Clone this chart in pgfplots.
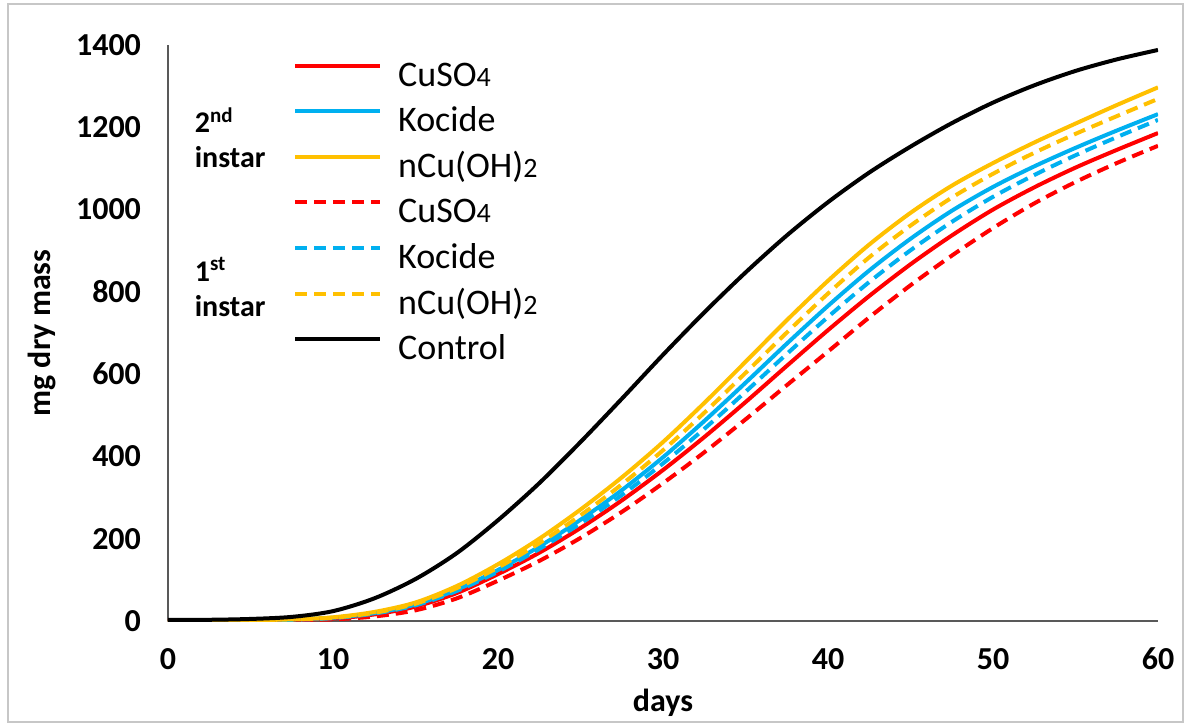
\documentclass[border=0pt]{standalone}
\usepackage{fontspec}
\setmainfont{Carlito}
\usepackage{pgfplots}
\usepackage{pgfplotstable}
\pgfplotsset{compat=1.18}

\definecolor{cured}{HTML}{FF0000}
\definecolor{koblue}{HTML}{00B0F0}
\definecolor{ncorange}{HTML}{FFC000}

% day, control, 2nd instar (cu, ko, nc), 1st instar (cu, ko, nc)
\pgfplotstableread{
day  ctrl cu2  ko2  nc2  cu1  ko1  nc1
0    3    1    1    1    1    1    1
2.5  3    1    1    1    1    1    1
5    5    2    2    2    1    2    2
7.5  10   3    4    4    2    3    4
10   24   6    8    9    4    7    8
12.5 55   16   19   22   11   18   20
15   102  35   40   45   26   38   42
17.5 165  68   76   85   55   73   80
20   245  114  124  138  98   120  130
22.5 335  166  181  200  146  175  189
25   435  226  246  271  202  237  257
27.5 540  293  318  349  265  306  332
30   647  367  398  435  335  383  415
32.5 750  447  486  530  410  467  506
35   847  532  579  630  490  557  603
37.5 937  620  674  731  573  649  701
40   1018 707  766  827  655  739  796
42.5 1090 790  852  915  738  824  884
45   1153 867  929  992  816  901  961
47.5 1210 937  997  1058 888  970  1029
50   1260 1000 1055 1113 955  1031 1087
52.5 1302 1054 1105 1163 1015 1084 1138
55   1337 1102 1150 1209 1067 1132 1184
57.5 1365 1145 1192 1254 1113 1176 1227
60   1388 1186 1232 1297 1155 1218 1269
}\growth

\newcommand\sub[1]{{\fontsize{14}{16}\selectfont #1}}

\begin{document}
\begin{tikzpicture}
\useasboundingbox (-84pt,-52pt) rectangle (509.5pt,310.5pt);
\draw[black!22, line width=0.8pt] (-80pt,-50.5pt) rectangle (507.5pt,308.5pt);
\begin{axis}[
    at={(0,0)}, anchor=south west,
    scale only axis,
    width=495pt, height=288pt,
    xmin=0, xmax=60, ymin=0, ymax=1400,
    xtick={0,10,...,60},
    ytick={0,200,...,1400},
    axis lines*=left,
    axis line style={black!65, line width=0.9pt},
    major tick length=0pt,
    tick label style={font=\fontsize{16}{18}\selectfont\bfseries},
    xticklabel style={yshift=-10pt},
    yticklabel style={xshift=-10pt},
    /pgf/number format/assume math mode=true,
    /pgf/number format/1000 sep={},
    xlabel={days},
    ylabel={mg dry mass},
    label style={font=\fontsize{16}{18}\selectfont\bfseries},
    xlabel style={at={(axis description cs:0.5,-0.1424)}, anchor=center},
    ylabel style={at={(axis description cs:-0.1273,0.5)}, anchor=center},
    legend cell align=left,
    legend style={
        at={(axis description cs:0.1200,0.985)}, anchor=north west,
        draw=none, fill=none,
        font=\fontsize{18}{20}\selectfont,
        row sep=4.3pt, column sep=8pt,
        nodes={inner sep=0pt, text height=14pt, text depth=4.5pt},
    },
    legend image code/.code={\draw[#1] (0pt,5.5pt) -- (42.5pt,5.5pt);},
    every axis plot/.append style={line width=2pt, smooth},
    dashcu/.style={dash pattern=on 6pt off 3.5pt},
]
\addplot[cured] table[x=day, y=cu2] {\growth};
\addlegendentry{CuSO\sub{4}}
\addplot[koblue] table[x=day, y=ko2] {\growth};
\addlegendentry{Kocide}
\addplot[ncorange] table[x=day, y=nc2] {\growth};
\addlegendentry{nCu(OH)\sub{2}}
\addplot[cured, dashcu] table[x=day, y=cu1] {\growth};
\addlegendentry{CuSO\sub{4}}
\addplot[koblue, dashcu] table[x=day, y=ko1] {\growth};
\addlegendentry{Kocide}
\addplot[ncorange, dashcu] table[x=day, y=nc1] {\growth};
\addlegendentry{nCu(OH)\sub{2}}
\addplot[black] table[x=day, y=ctrl] {\growth};
\addlegendentry{Control}

\node[anchor=west, align=left, font=\fontsize{15}{17.5}\selectfont\bfseries]
    at (axis cs:1.2,1174) {2\textsuperscript{nd}\\instar};
\node[anchor=west, align=left, font=\fontsize{15}{17.5}\selectfont\bfseries]
    at (axis cs:1.2,812) {1\textsuperscript{st}\\instar};
\end{axis}
\end{tikzpicture}
\end{document}
